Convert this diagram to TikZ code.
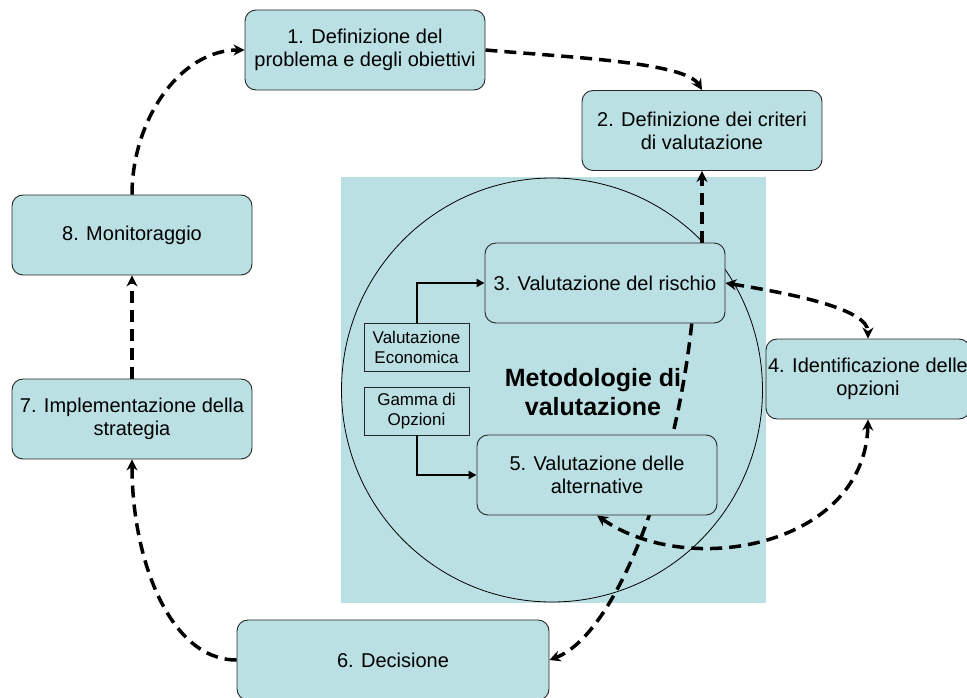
\documentclass[tikz,border=0pt]{standalone}
\usepackage{fontspec}
\setmainfont{Liberation Sans}
\usetikzlibrary{arrows.meta}
\pgfdeclarelayer{back}
\pgfdeclarelayer{mid}
\pgfsetlayers{back,mid,main}
\definecolor{boxfill}{RGB}{187,224,227}

\begin{document}
\begin{tikzpicture}[x=1pt,y=-1pt,
  stage/.style={draw=black!85, line width=0.9pt, fill=boxfill, rounded corners=11pt,
    minimum width=240pt, minimum height=80pt, align=center, inner sep=2pt,
    font=\fontsize{20}{23}\selectfont},
  tool/.style={draw=black!85, line width=0.9pt, fill=boxfill,
    minimum width=105pt, minimum height=48pt, align=center, inner sep=1pt,
    font=\fontsize{17}{20}\selectfont},
  flow/.style={line width=3.5pt, dash pattern=on 12pt off 7pt,
    -{Stealth[length=11pt,width=11pt]}},
  twoway/.style={flow, {Stealth[length=11pt,width=11pt]}-{Stealth[length=11pt,width=11pt]}},
  feed/.style={line width=2pt, -{Triangle[length=8pt,width=8pt]}}]

\useasboundingbox (0,0) rectangle (967,697);
\clip (0,0) rectangle (967,697);

% assessment methodologies panel
\begin{pgfonlayer}{back}
  \fill[boxfill] (341,177) rectangle (766,603);
  \draw[line width=0.8pt] (552,390) ellipse [x radius=210.5, y radius=212];
\end{pgfonlayer}

% process stages
\node[stage] (n1) at (365,50) {1. Definizione del\\problema e degli obiettivi};
\node[stage] (n2) at (702,130.5) {2. Definizione dei criteri\\di valutazione};
\node[stage] (n3) at (605,283) {3. Valutazione del rischio};
\node[stage, minimum width=204pt] (n4) at (868,379) {4. Identificazione delle\\opzioni};
\node[stage] (n5) at (597,475) {5. Valutazione delle\\alternative};
\node[stage, minimum width=312pt] (n6) at (393,660) {6. Decisione};
\node[stage] (n7) at (132,419) {7. Implementazione della\\strategia};
\node[stage] (n8) at (132,235) {8. Monitoraggio};

% supporting tools
\node[tool] (ve) at (416.5,347) {Valutazione\\Economica};
\node[tool] (go) at (416.5,411) {Gamma di\\Opzioni};
\node[font=\fontsize{25}{29}\selectfont\bfseries, align=center] (met) at (593,392)
  {Metodologie di\\valutazione};

% cycle connectors
\begin{pgfonlayer}{mid}
  \draw[flow] (n1.east) .. controls (565,57) and (685,62) .. (n2.north);
  \draw[flow] (n3.north -| n2.south) -- (n2.south);
  \draw[twoway] (n3.east) .. controls (800,295) and (868,310) .. (n4.north);
  \draw[twoway] (n4.south) .. controls (865,545) and (690,580) .. (n5.south);
  \draw[flow] (n3.-25) .. controls (675,480) and (615,635) .. (n6.east);
  \draw[flow] (n6.west) .. controls (170,660) and (132,560) .. (n7.south);
  \draw[flow] (n7.north) -- (n8.south);
  \draw[flow] (n8.north) .. controls (132,120) and (180,50) .. (n1.west);
\end{pgfonlayer}

% tool inputs
\draw[feed] (ve.north) |- (n3.west);
\draw[feed] (go.south) |- (n5.west);
\end{tikzpicture}
\end{document}
